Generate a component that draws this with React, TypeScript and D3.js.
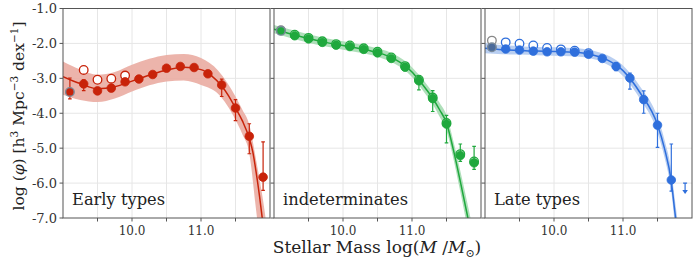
import * as d3 from "d3";

// binned mass function points (log M)
const binX = [9.1, 9.3, 9.5, 9.7, 9.9, 10.1, 10.3, 10.5, 10.7, 10.9, 11.1, 11.3, 11.5, 11.7, 11.9];

const earlyVals = [-3.39, -3.16, -3.36, -3.28, -3.10, -3.02, -2.89, -2.71, -2.66, -2.69, -2.87, -3.19, -3.85, -4.66, -5.83];
const earlyLo = [-3.59, -3.35, -3.42, -3.34, -3.16, -3.07, -2.94, -2.76, -2.71, -2.74, -2.95, -3.52, -4.21, -5.16, -6.21];
const earlyHi = [-2.99, -3.04, -3.30, -3.22, -3.04, -2.97, -2.84, -2.66, -2.61, -2.64, -2.79, -3.02, -3.61, -4.30, -4.82];
const earlyOpenX = [9.3, 9.5, 9.7, 9.9];
const earlyOpen = [-2.76, -3.04, -3.01, -2.92];

const indetVals = [-1.64, -1.78, -1.87, -1.97, -2.05, -2.09, -2.17, -2.27, -2.43, -2.68, -3.07, -3.58, -4.31, -5.21, -5.42];
const indetLo = [-1.69, -1.83, -1.92, -2.02, -2.10, -2.14, -2.22, -2.32, -2.49, -2.78, -3.33, -3.95, -4.85, -5.38, -5.61];
const indetHi = [-1.59, -1.73, -1.82, -1.92, -2.00, -2.04, -2.12, -2.22, -2.38, -2.58, -2.95, -3.35, -4.06, -4.88, -4.95];
const indetOpen = [-1.62, -1.75, -1.84, -1.94, -2.02, -2.06, -2.14, -2.24, -2.40, -2.65, -3.04, -3.55, -4.28, -5.17, -5.38];

const lateVals = [-2.11, -2.16, -2.19, -2.22, -2.24, -2.24, -2.25, -2.31, -2.43, -2.66, -2.99, -3.61, -4.34, -5.91];
const lateLo = [-2.15, -2.20, -2.23, -2.26, -2.28, -2.28, -2.29, -2.35, -2.48, -2.78, -3.31, -4.00, -4.98, -6.23];
const lateHi = [-2.07, -2.12, -2.15, -2.18, -2.20, -2.20, -2.21, -2.27, -2.38, -2.55, -2.85, -3.36, -4.00, -4.88];
const lateOpenX = [9.1, 9.3, 9.5, 9.7, 9.9, 10.1, 10.3, 10.5];
const lateOpen = [-1.92, -1.97, -2.01, -2.06, -2.13, -2.17, -2.21, -2.28];
const lateLimitX = 11.9;
const lateLimit = -6.0;

// fitted curves + 1-sigma bands
const earlyFitX = [9.0, 9.25, 9.5, 9.75, 10.0, 10.25, 10.5, 10.75, 11.0, 11.15, 11.3, 11.4, 11.5, 11.6, 11.7, 11.75, 11.8, 11.85, 11.9];
const earlyFit = [-2.95, -3.15, -3.30, -3.24, -3.08, -2.91, -2.76, -2.68, -2.75, -2.92, -3.22, -3.50, -3.85, -4.22, -4.72, -5.10, -5.70, -6.40, -7.20];
const earlyBandX = [9.0, 9.25, 9.5, 9.75, 10.0, 10.25, 10.5, 10.75, 11.0, 11.25, 11.5, 11.6, 11.7, 11.8, 11.9, 12.0];
const earlyBandLo = [-3.47, -3.62, -3.68, -3.58, -3.38, -3.20, -3.09, -3.06, -3.19, -3.45, -4.19, -4.60, -5.15, -6.80, -8.50, -10.0];
const earlyBandHi = [-2.52, -2.75, -2.90, -2.82, -2.61, -2.44, -2.33, -2.30, -2.42, -2.78, -3.52, -3.90, -4.33, -5.35, -6.50, -8.0];

const indetFitX = [9.0, 9.25, 9.5, 9.75, 10.0, 10.25, 10.5, 10.75, 11.0, 11.1, 11.2, 11.3, 11.4, 11.5, 11.6, 11.7, 11.8, 11.9];
const indetFit = [-1.59, -1.73, -1.86, -1.97, -2.06, -2.15, -2.26, -2.45, -2.82, -3.05, -3.30, -3.57, -3.90, -4.28, -5.05, -5.95, -6.90, -7.90];
const indetBandLo = [-1.71, -1.85, -1.98, -2.09, -2.18, -2.27, -2.38, -2.58, -2.96, -3.20, -3.46, -3.74, -4.10, -4.50, -5.30, -6.25, -7.25, -8.30];
const indetBandHi = [-1.47, -1.61, -1.74, -1.85, -1.94, -2.03, -2.14, -2.32, -2.68, -2.90, -3.14, -3.40, -3.70, -4.06, -4.80, -5.65, -6.55, -7.50];

const lateFitX = [9.0, 9.25, 9.5, 9.75, 10.0, 10.25, 10.5, 10.75, 11.0, 11.25, 11.5, 11.6, 11.7, 11.75, 11.8];
const lateFit = [-2.14, -2.18, -2.20, -2.22, -2.23, -2.25, -2.30, -2.45, -2.78, -3.42, -4.33, -5.00, -5.95, -6.80, -7.60];
const lateBandLo = [-2.28, -2.31, -2.32, -2.34, -2.35, -2.37, -2.42, -2.58, -2.93, -3.60, -4.55, -5.25, -6.25, -7.15, -8.0];
const lateBandHi = [-1.99, -2.05, -2.08, -2.10, -2.11, -2.13, -2.18, -2.32, -2.63, -3.24, -4.11, -4.75, -5.65, -6.45, -7.20];

const yTicks = [-1, -2, -3, -4, -5, -6, -7];
const xTicks = [10, 11];
const xGrid = [9.5, 10, 10.5, 11, 11.5];

const W = 695, H = 265;
const top = 8.5, bottom = 218;
const panelLefts = [63, 274, 485];
const panelW = 207;
const serif = "DejaVu Serif, serif";

const y = d3.scaleLinear().domain([-7, -1]).range([bottom, top]);

type Panel = {
  name: string;
  color: string;
  band: string;
  vals: number[];
  lo: number[];
  hi: number[];
  openX: number[];
  open: number[];
  fitX: number[];
  fit: number[];
  bandX: number[];
  bandLo: number[];
  bandHi: number[];
};

const panels: Panel[] = [
  { name: "Early types", color: "#c8230a", band: "#eaaca2", vals: earlyVals, lo: earlyLo, hi: earlyHi,
    openX: earlyOpenX, open: earlyOpen, fitX: earlyFitX, fit: earlyFit, bandX: earlyBandX, bandLo: earlyBandLo, bandHi: earlyBandHi },
  { name: "indeterminates", color: "#1fa83d", band: "#a6dcb2", vals: indetVals, lo: indetLo, hi: indetHi,
    openX: binX, open: indetOpen, fitX: indetFitX, fit: indetFit, bandX: indetFitX, bandLo: indetBandLo, bandHi: indetBandHi },
  { name: "Late types", color: "#2f6fdc", band: "#b0c9f0", vals: lateVals, lo: lateLo, hi: lateHi,
    openX: lateOpenX, open: lateOpen, fitX: lateFitX, fit: lateFit, bandX: lateFitX, bandLo: lateBandLo, bandHi: lateBandHi },
];

function PanelView({ p, i }: { p: Panel; i: number }) {
  const left = panelLefts[i];
  const x = d3.scaleLinear().domain([9, 12]).range([left, left + panelW]);
  const clipId = `clip${i}`;

  const line = d3.line<number>()
    .x((_, k) => x(p.fitX[k]))
    .y((d) => y(d))
    .curve(d3.curveMonotoneX);
  const area = d3.area<number>()
    .x((_, k) => x(p.bandX[k]))
    .y0((_, k) => y(p.bandLo[k]))
    .y1((_, k) => y(p.bandHi[k]))
    .curve(d3.curveMonotoneX);

  return (
    <g>
      <defs>
        <clipPath id={clipId}>
          <rect x={left} y={top} width={panelW} height={bottom - top} />
        </clipPath>
      </defs>
      <rect x={left} y={top} width={panelW} height={bottom - top} fill="#fff" />
      {yTicks.slice(1, -1).map((t) => (
        <line key={"gy" + t} x1={left} x2={left + panelW} y1={y(t)} y2={y(t)} stroke="#e6e6e6" />
      ))}
      {xGrid.map((t) => (
        <line key={"gx" + t} x1={x(t)} x2={x(t)} y1={top} y2={bottom} stroke="#e6e6e6" />
      ))}

      <g clipPath={`url(#${clipId})`}>
        <path d={area(p.bandLo) ?? ""} fill={p.band} opacity={0.9} />
        <path d={line(p.fit) ?? ""} fill="none" stroke={p.color} strokeWidth={1.5} />

        {p.open.map((v, k) => (
          <circle key={"o" + k} cx={x(p.openX[k])} cy={y(v)} r={4.3}
            fill="#fff" stroke={k === 0 && p.openX[0] === 9.1 && i !== 0 ? "#888" : p.color} strokeWidth={1.3} />
        ))}

        {p.vals.map((v, k) => {
          const cx = x(binX[k]);
          return (
            <g key={"e" + k} stroke={p.color} strokeWidth={1.2}>
              <line x1={cx} x2={cx} y1={y(p.lo[k])} y2={y(p.hi[k])} />
              <line x1={cx - 1.8} x2={cx + 1.8} y1={y(p.lo[k])} y2={y(p.lo[k])} />
              <line x1={cx - 1.8} x2={cx + 1.8} y1={y(p.hi[k])} y2={y(p.hi[k])} />
            </g>
          );
        })}

        {p.vals.map((v, k) => (
          <circle key={"p" + k} cx={x(binX[k])} cy={y(v)} r={4.3}
            fill={k === 0 && i === 2 ? "#4a6a9a" : p.color}
            stroke={k === 0 ? "#7a8a9a" : p.color} strokeWidth={k === 0 ? 1.4 : 0.8} />
        ))}

        {i === 2 && (
          <g stroke={p.color} fill={p.color} strokeWidth={1.2}>
            <line x1={x(lateLimitX) - 2} x2={x(lateLimitX) + 2} y1={y(lateLimit)} y2={y(lateLimit)} />
            <line x1={x(lateLimitX)} x2={x(lateLimitX)} y1={y(lateLimit)} y2={y(lateLimit) + 8} />
            <path d={`M${x(lateLimitX) - 2.8},${y(lateLimit) + 7} L${x(lateLimitX) + 2.8},${y(lateLimit) + 7} L${x(lateLimitX)},${y(lateLimit) + 11} Z`} stroke="none" />
          </g>
        )}
      </g>

      <rect x={left} y={top} width={panelW} height={bottom - top} fill="none" stroke="#555" strokeWidth={1} />
      {xGrid.map((t) => (
        <line key={"tx" + t} x1={x(t)} x2={x(t)} y1={bottom} y2={bottom + 3.5} stroke="#555" />
      ))}
      {yTicks.map((t) => (
        <line key={"ty" + t} x1={left - 3.5} x2={left} y1={y(t)} y2={y(t)} stroke="#555" />
      ))}
      {xTicks.map((t) => (
        <text key={"lx" + t} x={x(t)} y={234.5} textAnchor="middle" fontFamily={serif} fontSize={12} fill="#333">
          {t.toFixed(1)}
        </text>
      ))}
      <text x={left + 9} y={205} fontFamily={serif} fontSize={16.3} fill="#222">{p.name}</text>
    </g>
  );
}

export default function App() {
  return (
    <svg width={W} height={H} style={{ position: "absolute", left: 0, top: 0, background: "#fff" }}>
      {panels.map((p, i) => <PanelView key={p.name} p={p} i={i} />)}

      {yTicks.map((t) => (
        <text key={t} x={57} y={y(t)} dy="0.35em" textAnchor="end" fontFamily={serif} fontSize={13} fill="#333">
          {t.toFixed(1)}
        </text>
      ))}

      <text transform="translate(24,116) rotate(-90)" textAnchor="middle" fontFamily={serif} fontSize={15.5} fill="#222">
        log (<tspan fontStyle="italic">φ</tspan>) [h<tspan dy={-6} fontSize={10.5}>3</tspan>
        <tspan dy={6}>  Mpc</tspan><tspan dy={-6} fontSize={10.5}>−3</tspan>
        <tspan dy={6}>  dex</tspan><tspan dy={-6} fontSize={10.5}>−1</tspan><tspan dy={6}>]</tspan>
      </text>

      <text x={377} y={253} textAnchor="middle" fontFamily={serif} fontSize={17} fill="#222">
        Stellar Mass log(<tspan fontStyle="italic">M</tspan> /<tspan fontStyle="italic">M</tspan>
        <tspan dy={4} fontSize={11}>⊙</tspan><tspan dy={-4}>)</tspan>
      </text>
    </svg>
  );
}
